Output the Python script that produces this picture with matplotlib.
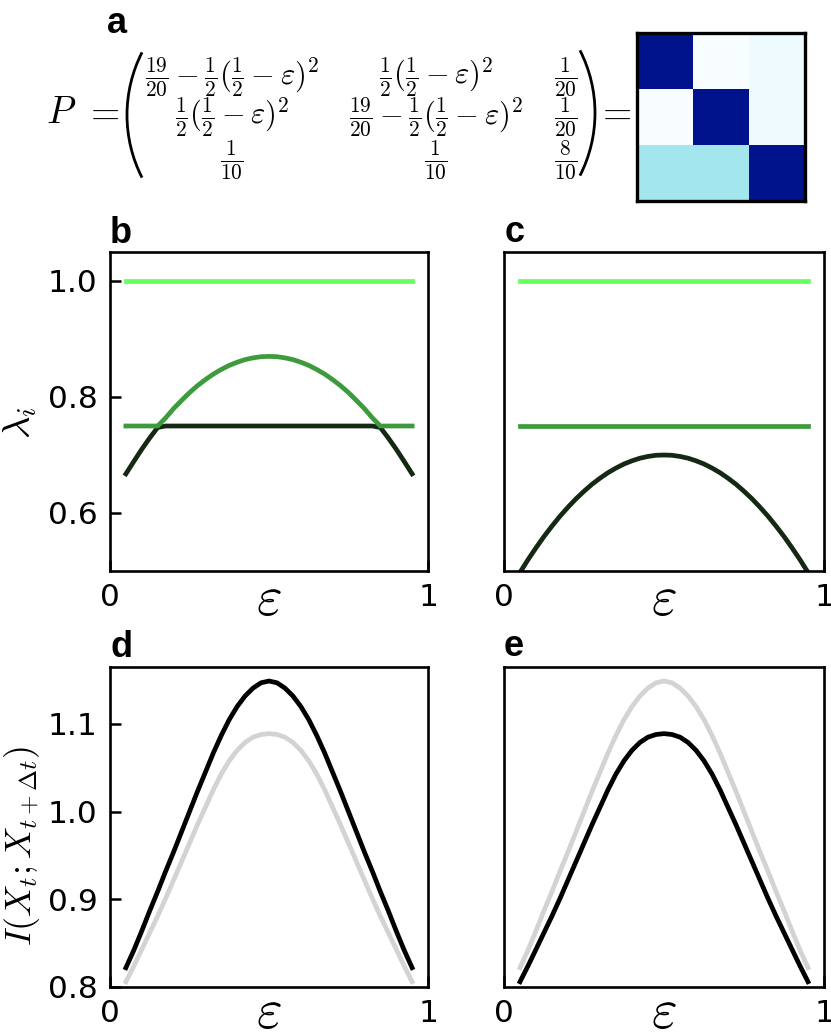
import matplotlib
matplotlib.use('Agg')
import matplotlib.pyplot as plt
from matplotlib.patches import Arc
from matplotlib.colors import LinearSegmentedColormap

plt.rcParams['mathtext.fontset'] = 'cm'
plt.rcParams['font.family'] = 'DejaVu Sans'

# epsilon grid used for all curves
eps = [0.05, 0.075, 0.1, 0.125, 0.15, 0.175, 0.2, 0.225, 0.25, 0.275,
       0.3, 0.325, 0.35, 0.375, 0.4, 0.425, 0.45, 0.475, 0.5,
       0.525, 0.55, 0.575, 0.6, 0.625, 0.65, 0.675, 0.7, 0.725,
       0.75, 0.775, 0.8, 0.825, 0.85, 0.875, 0.9, 0.925, 0.95]

# panel b eigenvalues
lam_b_top = [1.0] * len(eps)
lam_b_mid = [0.750, 0.750, 0.750, 0.750, 0.750, 0.764, 0.780, 0.794, 0.8075, 0.8195,
             0.830, 0.8395, 0.8475, 0.8545, 0.860, 0.8645, 0.8675, 0.8695, 0.870,
             0.8695, 0.8675, 0.8645, 0.860, 0.8545, 0.8475, 0.8395, 0.830, 0.8195,
             0.8075, 0.794, 0.780, 0.764, 0.750, 0.750, 0.750, 0.750, 0.750]
lam_b_low = [0.6675, 0.689, 0.710, 0.7295, 0.7475, 0.750, 0.750, 0.750, 0.750, 0.750,
             0.750, 0.750, 0.750, 0.750, 0.750, 0.750, 0.750, 0.750, 0.750,
             0.750, 0.750, 0.750, 0.750, 0.750, 0.750, 0.750, 0.750, 0.750,
             0.750, 0.750, 0.750, 0.750, 0.7475, 0.7295, 0.710, 0.689, 0.6675]

# panel c eigenvalues
lam_c_top = [1.0] * len(eps)
lam_c_mid = [0.75] * len(eps)
lam_c_low = [0.4975, 0.5195, 0.540, 0.5595, 0.5775, 0.5945, 0.610, 0.6245, 0.6375, 0.6495,
             0.660, 0.6695, 0.6775, 0.6845, 0.690, 0.6945, 0.6975, 0.6995, 0.700,
             0.6995, 0.6975, 0.6945, 0.690, 0.6845, 0.6775, 0.6695, 0.660, 0.6495,
             0.6375, 0.6245, 0.610, 0.5945, 0.5775, 0.5595, 0.540, 0.5195, 0.4975]

# mutual information curves (panels d, e)
mi_high = [0.822, 0.842, 0.864, 0.887, 0.909, 0.932, 0.954, 0.977, 1.000, 1.023,
           1.045, 1.067, 1.087, 1.105, 1.120, 1.132, 1.141, 1.147, 1.149,
           1.147, 1.141, 1.132, 1.120, 1.105, 1.087, 1.067, 1.045, 1.023,
           1.000, 0.977, 0.954, 0.932, 0.909, 0.887, 0.864, 0.842, 0.822]
mi_low = [0.806, 0.824, 0.843, 0.862, 0.881, 0.901, 0.922, 0.943, 0.964, 0.985,
          1.005, 1.025, 1.043, 1.058, 1.070, 1.079, 1.085, 1.088, 1.089,
          1.088, 1.085, 1.079, 1.070, 1.058, 1.043, 1.025, 1.005, 0.985,
          0.964, 0.943, 0.922, 0.901, 0.881, 0.862, 0.843, 0.824, 0.806]

# transition matrix shown as heatmap
P_cells = [[0.93, 0.02, 0.05],
           [0.02, 0.93, 0.05],
           [0.10, 0.10, 0.80]]

matrix_text = [
    [r'$\frac{19}{20}-\frac{1}{2}(\frac{1}{2}-\varepsilon)^2$',
     r'$\frac{1}{2}(\frac{1}{2}-\varepsilon)^2$', r'$\frac{1}{20}$'],
    [r'$\frac{1}{2}(\frac{1}{2}-\varepsilon)^2$',
     r'$\frac{19}{20}-\frac{1}{2}(\frac{1}{2}-\varepsilon)^2$', r'$\frac{1}{20}$'],
    [r'$\frac{1}{10}$', r'$\frac{1}{10}$', r'$\frac{8}{10}$'],
]

c_light = '#66ff5c'
c_mid = '#3d9b3d'
c_dark = '#132913'
lw = 3.4

fig = plt.figure(figsize=(8.31, 10.32), dpi=100)

# overlay in pixel coordinates for the equation and panel letters
ax_eq = fig.add_axes([0, 0, 1, 1])
ax_eq.set_xlim(0, 831)
ax_eq.set_ylim(1032, 0)
ax_eq.axis('off')

ax_eq.text(46, 113, r'$P$', fontsize=27, ha='left', va='center')
ax_eq.text(84, 113, r'$=$', fontsize=27, ha='left', va='center')
col_x = [232, 436, 566]
row_y = [77, 117, 160]
for i in range(3):
    for j in range(3):
        ax_eq.text(col_x[j], row_y[i], matrix_text[i][j], fontsize=22,
                   ha='center', va='center')
# parentheses
ax_eq.add_patch(Arc((265, 115), 276, 276, theta1=153, theta2=207, lw=2.0, color='k'))
ax_eq.add_patch(Arc((457, 113), 276, 276, theta1=-27, theta2=27, lw=2.0, color='k'))
ax_eq.text(596, 113, r'$=$', fontsize=27, ha='left', va='center')

letter_kw = dict(fontsize=26, fontweight='bold', family='Liberation Sans',
                 ha='left', va='baseline')
ax_eq.text(107, 33, 'a', **letter_kw)
ax_eq.text(110, 243, 'b', **letter_kw)
ax_eq.text(505, 242, 'c', **letter_kw)
ax_eq.text(110, 657, 'd', **letter_kw)
ax_eq.text(504, 656, 'e', **letter_kw)

# heatmap of P
cmap = LinearSegmentedColormap.from_list(
    'pmat', [(0.0, '#ffffff'), (0.02, '#f8feff'), (0.05, '#eefaff'),
             (0.10, '#a2e6ee'), (0.80, '#00138c'), (1.0, '#00138c')])
ax_h = fig.add_axes([637 / 831, 1 - 201 / 1032, 168 / 831, 168 / 1032])
ax_h.imshow(P_cells, cmap=cmap, vmin=0, vmax=1, aspect='auto')
ax_h.set_xticks([])
ax_h.set_yticks([])
for s in ax_h.spines.values():
    s.set_linewidth(2.4)

ax_b = fig.add_axes([110 / 831, 1 - 571 / 1032, 318 / 831, 319 / 1032])
ax_c = fig.add_axes([504 / 831, 1 - 571 / 1032, 320 / 831, 319 / 1032])
ax_d = fig.add_axes([110 / 831, 1 - 987 / 1032, 318 / 831, 320 / 1032])
ax_e = fig.add_axes([504 / 831, 1 - 987 / 1032, 320 / 831, 320 / 1032])

line_kw = dict(lw=lw, solid_joinstyle='round')
ax_b.plot(eps, lam_b_top, color=c_light, **line_kw)
ax_b.plot(eps, lam_b_low, color=c_dark, **line_kw)
ax_b.plot(eps, lam_b_mid, color=c_mid, **line_kw)

ax_c.plot(eps, lam_c_top, color=c_light, **line_kw)
ax_c.plot(eps, lam_c_mid, color=c_mid, **line_kw)
ax_c.plot(eps, lam_c_low, color=c_dark, **line_kw)

ax_d.plot(eps, mi_low, color='#d3d3d3', **line_kw)
ax_d.plot(eps, mi_high, color='k', **line_kw)

ax_e.plot(eps, mi_high, color='#d3d3d3', **line_kw)
ax_e.plot(eps, mi_low, color='k', **line_kw)

for ax in (ax_b, ax_c, ax_d, ax_e):
    ax.set_xlim(0, 1)
    ax.set_xticks([0, 1])
    ax.set_xticklabels(['0', '1'])
    ax.tick_params(direction='in', length=8, width=1.8, labelsize=22.5, pad=9)
    for s in ax.spines.values():
        s.set_linewidth(1.9)
    ax.set_xlabel(r'$\varepsilon$', fontsize=40)
    ax.xaxis.label.set_va('center')

for ax in (ax_b, ax_c):
    ax.set_ylim(0.5, 1.05)
    ax.xaxis.set_label_coords(0.5, -0.09)
for ax in (ax_d, ax_e):
    ax.set_ylim(0.8, 1.165)
    ax.xaxis.set_label_coords(0.5, -0.08)

ax_b.set_yticks([0.6, 0.8, 1.0])
ax_b.set_yticklabels(['0.6', '0.8', '1.0'])
ax_d.set_yticks([0.8, 0.9, 1.0, 1.1])
ax_d.set_yticklabels(['0.8', '0.9', '1.0', '1.1'])
ax_c.set_yticks([])
ax_e.set_yticks([])

ax_b.set_ylabel(r'$\lambda_i$', fontsize=28)
ax_b.yaxis.set_label_coords(-0.283, 0.464)
ax_b.yaxis.label.set_va('center')
ax_d.set_ylabel(r'$I(X_t;X_{t+\Delta t})$', fontsize=26)
ax_d.yaxis.set_label_coords(-0.277, 0.44)
ax_d.yaxis.label.set_va('center')

fig.savefig('out.png', dpi=100)
